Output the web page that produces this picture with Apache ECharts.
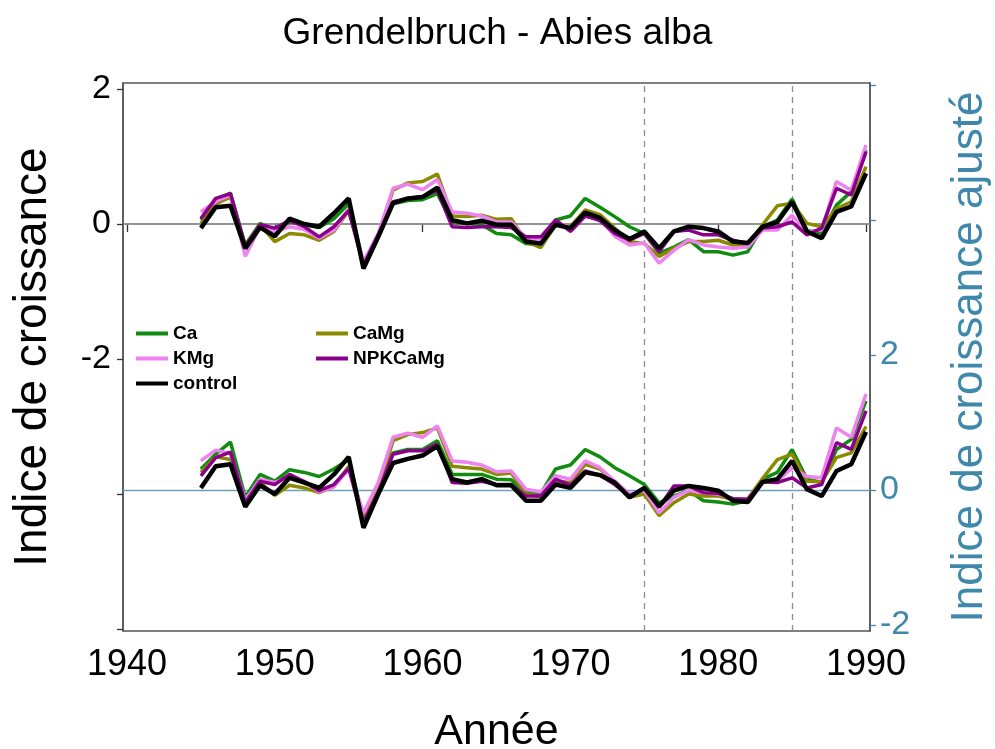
<!DOCTYPE html>
<html>
<head>
<meta charset="utf-8">
<script src="https://cdn.jsdelivr.net/npm/echarts@6/dist/echarts.min.js"></script>
<style>
  html, body { margin: 0; padding: 0; background: #fff; }
  #chart { width: 995px; height: 749px; }
</style>
</head>
<body>
<div id="chart"></div>
<script>
// years 1945 - 1990
var years = [1945, 1946, 1947, 1948, 1949, 1950, 1951, 1952, 1953, 1954,
  1955, 1956, 1957, 1958, 1959, 1960, 1961, 1962, 1963, 1964,
  1965, 1966, 1967, 1968, 1969, 1970, 1971, 1972, 1973, 1974,
  1975, 1976, 1977, 1978, 1979, 1980, 1981, 1982, 1983, 1984,
  1985, 1986, 1987, 1988, 1989, 1990];

var xTicks = [1940, 1950, 1960, 1970, 1980, 1990];
var leftTicks = [-6, -4, -2, 0, 2];
var rightTicks = [-2, 0, 2, 4, 6];
var labelTicks = [-2, 0, 2];
var periodLines = [1975, 1985];

// raw growth index (left axis)
var caRaw = [0.06, 0.36, 0.46, -0.31, 0.01, -0.09, 0.03, -0.01, -0.05, 0.08,
  0.30, -0.58, -0.16, 0.30, 0.35, 0.36, 0.45, 0.02, 0.01, -0.01,
  -0.14, -0.16, -0.29, -0.31, 0.06, 0.12, 0.38, 0.25, 0.11, -0.04,
  -0.14, -0.43, -0.34, -0.23, -0.41, -0.41, -0.46, -0.41, -0.04, 0.06,
  0.37, -0.09, -0.14, 0.28, 0.48, 1.10];
var camgRaw = [0.01, 0.30, 0.40, -0.33, -0.01, -0.26, -0.14, -0.16, -0.24, -0.11,
  0.20, -0.58, -0.18, 0.50, 0.61, 0.63, 0.74, 0.12, 0.11, 0.13,
  0.07, 0.08, -0.26, -0.35, -0.01, -0.04, 0.21, 0.14, -0.06, -0.26,
  -0.29, -0.48, -0.36, -0.26, -0.26, -0.24, -0.31, -0.31, -0.01, 0.27,
  0.31, 0.01, -0.04, 0.23, 0.33, 0.85];
var kmgRaw = [0.18, 0.33, 0.43, -0.48, -0.04, -0.11, -0.04, -0.08, -0.21, -0.09,
  0.22, -0.56, -0.14, 0.53, 0.59, 0.51, 0.66, 0.18, 0.16, 0.12,
  0.03, 0.03, -0.21, -0.24, 0.02, -0.05, 0.11, 0.08, -0.18, -0.31,
  -0.28, -0.58, -0.39, -0.23, -0.31, -0.34, -0.36, -0.34, -0.09, -0.09,
  0.13, -0.11, -0.09, 0.63, 0.50, 1.17];
var npkRaw = [0.08, 0.38, 0.45, -0.33, -0.01, -0.06, 0.05, -0.04, -0.19, -0.04,
  0.20, -0.61, -0.16, 0.33, 0.38, 0.41, 0.50, -0.04, -0.05, -0.04,
  -0.04, -0.05, -0.19, -0.19, 0.06, -0.11, 0.12, 0.05, -0.14, -0.24,
  -0.14, -0.41, -0.11, -0.09, -0.16, -0.16, -0.24, -0.29, -0.06, -0.04,
  0.03, -0.16, -0.06, 0.53, 0.43, 1.07];
var controlRaw = [-0.06, 0.25, 0.27, -0.36, -0.05, -0.18, 0.08, 0.00, -0.04, 0.16,
  0.38, -0.66, -0.19, 0.31, 0.38, 0.40, 0.54, 0.06, 0.01, 0.05,
  -0.01, -0.01, -0.26, -0.29, -0.01, -0.06, 0.17, 0.09, -0.09, -0.22,
  -0.11, -0.36, -0.11, -0.04, -0.06, -0.11, -0.26, -0.28, -0.04, 0.03,
  0.33, -0.11, -0.21, 0.18, 0.26, 0.75];

// adjusted growth index (right axis)
var caAdj = [0.31, 0.53, 0.71, -0.11, 0.23, 0.13, 0.30, 0.26, 0.20, 0.31,
  0.45, -0.43, -0.01, 0.55, 0.60, 0.60, 0.73, 0.23, 0.23, 0.23,
  0.16, 0.15, -0.04, -0.05, 0.31, 0.37, 0.60, 0.49, 0.33, 0.21,
  0.08, -0.19, -0.09, -0.01, -0.16, -0.18, -0.21, -0.16, 0.16, 0.26,
  0.60, 0.16, 0.11, 0.60, 0.75, 1.32];
var camgAdj = [0.26, 0.49, 0.45, -0.14, 0.11, -0.08, 0.07, 0.03, -0.04, 0.05,
  0.35, -0.41, 0.01, 0.73, 0.82, 0.85, 0.92, 0.35, 0.33, 0.31,
  0.23, 0.25, -0.06, -0.10, 0.13, 0.11, 0.38, 0.31, 0.11, -0.11,
  -0.06, -0.38, -0.19, -0.06, -0.09, -0.09, -0.14, -0.13, 0.17, 0.45,
  0.53, 0.13, 0.12, 0.48, 0.55, 0.94];
var kmgAdj = [0.43, 0.59, 0.54, -0.15, 0.16, 0.11, 0.20, 0.13, -0.03, 0.05,
  0.31, -0.34, 0.11, 0.78, 0.84, 0.78, 0.95, 0.43, 0.41, 0.37,
  0.27, 0.28, 0.01, -0.03, 0.21, 0.16, 0.43, 0.33, 0.13, -0.06,
  -0.01, -0.34, -0.11, -0.01, -0.04, -0.06, -0.13, -0.14, 0.11, 0.13,
  0.33, 0.20, 0.18, 0.92, 0.78, 1.42];
var npkAdj = [0.21, 0.48, 0.56, -0.19, 0.13, 0.08, 0.23, 0.12, -0.01, 0.08,
  0.32, -0.48, -0.04, 0.53, 0.58, 0.58, 0.68, 0.11, 0.10, 0.13,
  0.08, 0.08, -0.09, -0.09, 0.16, 0.07, 0.28, 0.22, 0.08, -0.09,
  0.03, -0.26, 0.06, 0.06, -0.04, -0.05, -0.13, -0.14, 0.12, 0.11,
  0.18, 0.03, 0.08, 0.70, 0.60, 1.17];
var controlAdj = [0.03, 0.35, 0.38, -0.25, 0.07, -0.06, 0.18, 0.11, 0.03, 0.23,
  0.49, -0.56, -0.06, 0.40, 0.46, 0.51, 0.65, 0.16, 0.11, 0.16,
  0.07, 0.07, -0.16, -0.16, 0.08, 0.03, 0.26, 0.22, 0.11, -0.11,
  0.03, -0.24, -0.01, 0.06, 0.03, -0.01, -0.16, -0.18, 0.12, 0.16,
  0.43, 0.01, -0.09, 0.28, 0.38, 0.86];

var treatments = [
  { name: 'Ca', color: '#118c11', raw: caRaw, adj: caAdj, width: 3.5 },
  { name: 'CaMg', color: '#8a8a00', raw: camgRaw, adj: camgAdj, width: 3.5 },
  { name: 'KMg', color: '#ee82ee', raw: kmgRaw, adj: kmgAdj, width: 3.5 },
  { name: 'NPKCaMg', color: '#8b008b', raw: npkRaw, adj: npkAdj, width: 3.5 },
  { name: 'control', color: '#000000', raw: controlRaw, adj: controlAdj, width: 4.5 }
];

var FONT = '"Liberation Sans", Arial, sans-serif';
var BLUE = '#3f88ab';

function pairs(vals) {
  return years.map(function (y, i) { return [y, vals[i]]; });
}

function lineSeries(t, vals, axisIndex) {
  return {
    name: t.name,
    type: 'line',
    yAxisIndex: axisIndex,
    data: pairs(vals),
    showSymbol: false,
    color: t.color,
    lineStyle: { color: t.color, width: t.width },
    z: 5,
    silent: true
  };
}

var series = [
  {
    type: 'line', data: [], yAxisIndex: 0, z: 1, silent: true,
    markLine: {
      symbol: 'none', silent: true, animation: false,
      label: { show: false },
      data: [
        { yAxis: 0, lineStyle: { color: '#9a9a9a', width: 1.5, type: 'solid' } }
      ].concat(periodLines.map(function (x) {
        return { xAxis: x, lineStyle: { color: '#8c8c8c', width: 1.3, type: [6, 5] } };
      }))
    }
  },
  {
    type: 'line', data: [], yAxisIndex: 1, z: 1, silent: true,
    markLine: {
      symbol: 'none', silent: true, animation: false,
      label: { show: false },
      data: [{ yAxis: 0, lineStyle: { color: '#6d9fbd', width: 1.3, type: 'solid' } }]
    }
  }
];
treatments.forEach(function (t) { series.push(lineSeries(t, t.raw, 0)); });
treatments.forEach(function (t) { series.push(lineSeries(t, t.adj, 1)); });

var legendBase = {
  orient: 'vertical',
  top: 319,
  icon: 'rect',
  itemWidth: 32,
  itemHeight: 4,
  itemGap: 6,
  selectedMode: false,
  textStyle: { fontFamily: FONT, fontSize: 19, fontWeight: 'bold', color: '#000' }
};

var chart = echarts.init(document.getElementById('chart'));
chart.setOption({
  animation: false,
  backgroundColor: '#fff',
  title: {
    text: 'Grendelbruch - Abies alba',
    left: 'center',
    top: 10,
    textStyle: { fontFamily: FONT, fontSize: 37, fontWeight: 'normal', color: '#000' }
  },
  legend: [
    Object.assign({ left: 131, data: ['Ca', 'KMg', 'control'] }, legendBase),
    Object.assign({ left: 311, data: ['CaMg', 'NPKCaMg'] }, legendBase)
  ],
  grid: {
    left: 123, right: 125, top: 83, bottom: 118,
    outerBoundsMode: 'none',
    show: true, borderColor: '#555', borderWidth: 1.5, backgroundColor: 'transparent'
  },
  xAxis: {
    type: 'value',
    min: 1939.73,
    max: 1990.27,
    name: 'Année',
    nameLocation: 'middle',
    nameGap: 80,
    nameTextStyle: { fontFamily: FONT, fontSize: 43, color: '#000' },
    axisLine: { show: true, lineStyle: { color: '#555', width: 1.5 } },
    axisTick: { show: true, length: 8, customValues: xTicks, lineStyle: { color: '#333', width: 1.3 } },
    axisLabel: {
      customValues: xTicks, margin: 16,
      formatter: function (v) { return String(v); },
      fontFamily: FONT, fontSize: 36, color: '#000'
    },
    splitLine: { show: false }
  },
  yAxis: [
    {
      type: 'value',
      position: 'left',
      min: -6.03,
      max: 2.09,
      name: 'Indice de croissance',
      nameLocation: 'middle',
      nameRotate: 90,
      nameGap: 67,
      nameTextStyle: { fontFamily: FONT, fontSize: 46, color: '#000' },
      axisLine: { show: true, lineStyle: { color: '#555', width: 1.5 } },
      axisTick: { show: true, length: 6, customValues: leftTicks, lineStyle: { color: '#333', width: 1.3 } },
      axisLabel: {
        customValues: labelTicks, margin: 12,
        fontFamily: FONT, fontSize: 34, color: '#000'
      },
      splitLine: { show: false }
    },
    {
      type: 'value',
      position: 'right',
      min: -2.09,
      max: 6.03,
      name: 'Indice de croissance ajusté',
      nameLocation: 'middle',
      nameRotate: 90,
      nameGap: 78,
      nameTextStyle: { fontFamily: FONT, fontSize: 44, color: BLUE },
      axisLine: { show: true, lineStyle: { color: '#555', width: 1.5 } },
      axisTick: { show: true, length: 6, customValues: rightTicks, lineStyle: { color: BLUE, width: 1.3 } },
      axisLabel: {
        customValues: labelTicks, margin: 10,
        fontFamily: FONT, fontSize: 34, color: BLUE
      },
      splitLine: { show: false }
    }
  ],
  series: series
});
</script>
</body>
</html>
